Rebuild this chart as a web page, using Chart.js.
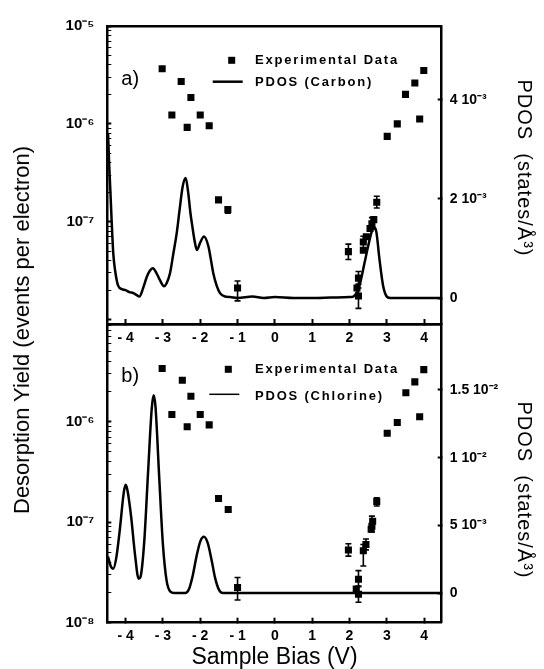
<!DOCTYPE html>
<html>
<head>
<meta charset="utf-8">
<script src="https://cdn.jsdelivr.net/npm/chart.js@4/dist/chart.umd.min.js"></script>
<style>
  body { margin: 0; background: #fff; }
  #wrap { position: relative; width: 544px; height: 669px; overflow: hidden; }
  canvas { position: absolute; left: 0; top: 0; }
  .vt { position: absolute; white-space: nowrap; font-family: "Liberation Sans", Arial, sans-serif; color: #000; }
</style>
</head>
<body>
<div id="wrap">
  <canvas id="panelB" width="544" height="669"></canvas>
  <canvas id="panelA" width="544" height="669"></canvas>
  <div class="vt" style="left:22px;top:330px;font-size:22px;transform:translate(-50%,-50%) rotate(-90deg);">Desorption Yield (events per electron)</div>
  <div class="vt" style="left:524px;top:168px;font-size:20px;letter-spacing:1px;transform:translate(-50%,-50%) rotate(90deg);">PDOS&nbsp; (states/Å³)</div>
  <div class="vt" style="left:524px;top:490px;font-size:20px;letter-spacing:1px;transform:translate(-50%,-50%) rotate(90deg);">PDOS&nbsp; (states/Å³)</div>
</div>
<script>
// axis ticks
var xTicks = [-4, -3, -2, -1, 0, 1, 2, 3, 4];
var xTickLabels = ['- 4', '- 3', '- 2', '- 1', '0', '1', '2', '3', '4'];
var yieldTicksA = [1e-5, 1e-6, 1e-7];
var yieldLabelsA = ['10⁻⁵', '10⁻⁶', '10⁻⁷'];
var yieldTicksB = [1e-6, 1e-7, 1e-8];
var yieldLabelsB = ['10⁻⁶', '10⁻⁷', '10⁻⁸'];
var pdosTicksA = [0, 2, 4];            // units of 10^-3 states/A^3
var pdosLabelsA = ['0', '2 10⁻³', '4 10⁻³'];
var pdosTicksB = [0, 5, 10, 15];
var pdosLabelsB = ['0', '5 10⁻³', '1 10⁻²', '1.5 10⁻²'];

// a) experimental desorption yield (events per electron)
var expXA = [-3.02, -2.51, -2.25, -2.76, -2.35, -2.00, -1.76, -1.51, -1.26, -1.00,
             1.97, 2.20, 2.24, 2.24, 2.37, 2.37, 2.45, 2.55, 2.60, 2.65, 2.73,
             3.01, 3.28, 3.50, 3.75, 3.88, 3.99];
var expYA = [3.65e-6, 2.71e-6, 1.86e-6, 1.23e-6, 9.2e-7, 1.23e-6, 9.55e-7, 1.67e-7, 1.33e-7, 2.1e-8,
             4.94e-8, 2.1e-8, 2.65e-8, 1.74e-8, 5.1e-8, 6.2e-8, 7.0e-8, 8.5e-8, 9.5e-8, 1.05e-7, 1.58e-7,
             7.45e-7, 1.0e-6, 2.0e-6, 2.61e-6, 1.12e-6, 3.51e-6];
var expLoA = [null, null, null, null, null, null, null, null, 1.22e-7, 1.55e-8,
              4.1e-8, null, 2.3e-8, 1.3e-8, null, 5.4e-8, null, null, 8.4e-8, null, 1.38e-7,
              null, null, null, null, null, null];
var expHiA = [null, null, null, null, null, null, null, null, 1.42e-7, 2.48e-8,
              5.9e-8, null, 3.1e-8, 2.1e-8, null, 7.1e-8, null, null, 1.1e-7, null, 1.82e-7,
              null, null, null, null, null, null];

// a) PDOS carbon (10^-3 states/A^3)
var pdosXA = [-4.47, -4.44, -4.41, -4.37, -4.33, -4.28, -4.2, -4.1, -4.0, -3.9, -3.79, -3.7, -3.63,
              -3.53, -3.43, -3.35, -3.27, -3.17, -3.08, -2.97, -2.9, -2.81, -2.72, -2.63, -2.55,
              -2.47, -2.39, -2.32, -2.26, -2.21, -2.15, -2.09, -2.0, -1.9, -1.78, -1.72, -1.65,
              -1.56, -1.47, -1.34, -1.2, -1.0, -0.6, -0.3, 0.0, 0.5, 1.0, 1.5, 2.0, 2.1, 2.2,
              2.3, 2.4, 2.5, 2.6, 2.66, 2.72, 2.8, 2.9, 3.0, 3.1, 3.5, 4.5];
var pdosYA = [3.33, 2.7, 2.2, 1.5, 0.9, 0.55, 0.25, 0.18, 0.16, 0.12, 0.1, 0.06, 0.03,
              0.2, 0.43, 0.55, 0.6, 0.5, 0.36, 0.24, 0.3, 0.5, 0.9, 1.31, 1.8,
              2.25, 2.42, 2.11, 1.7, 1.44, 1.15, 0.97, 1.12, 1.24, 1.04, 0.8, 0.5,
              0.25, 0.1, 0.03, 0.02, 0.0, 0.03, 0.0, 0.02, 0.0, 0.0, 0.01, 0.02, 0.03, 0.12,
              0.35, 0.7, 1.05, 1.35, 1.43, 1.33, 0.8, 0.25, 0.03, 0.0, 0.0, 0.0];

// b) experimental desorption yield
var expXB = [-3.02, -2.48, -2.25, -2.76, -2.35, -2.00, -1.76, -1.51, -1.25, -1.00,
             1.97, 2.18, 2.24, 2.24, 2.37, 2.44, 2.58, 2.60, 2.62, 2.73,
             3.01, 3.28, 3.51, 3.75, 3.88, 3.99];
var expYB = [3.38e-6, 2.59e-6, 1.79e-6, 1.18e-6, 8.9e-7, 1.18e-6, 9.3e-7, 1.72e-7, 1.34e-7, 2.24e-8,
             5.3e-8, 2.16e-8, 2.71e-8, 1.92e-8, 5.2e-8, 6.0e-8, 8.5e-8, 9.1e-8, 1.02e-7, 1.61e-7,
             7.67e-7, 9.8e-7, 1.94e-6, 2.49e-6, 1.12e-6, 3.3e-6];
var expLoB = [null, null, null, null, null, null, null, null, null, 1.68e-8,
              4.6e-8, null, 2.3e-8, 1.6e-8, 3.66e-8, 5.3e-8, null, 8.0e-8, null, 1.45e-7,
              null, null, null, null, null, null];
var expHiB = [null, null, null, null, null, null, null, null, null, 2.82e-8,
              6.1e-8, null, 3.3e-8, 2.3e-8, 6.0e-8, 6.8e-8, null, 1.15e-7, null, 1.75e-7,
              null, null, null, null, null, null];

// b) PDOS chlorine (10^-3 states/A^3)
var pdosXB = [-4.47, -4.4, -4.33, -4.25, -4.15, -4.05, -4.0, -3.95, -3.85, -3.75, -3.65, -3.6,
              -3.5, -3.4, -3.3, -3.25, -3.2, -3.1, -3.0, -2.9, -2.8, -2.7, -2.4, -2.3, -2.2,
              -2.1, -2.0, -1.9, -1.8, -1.7, -1.6, -1.5, -1.4, 4.5];
var pdosYB = [2.7, 2.0, 1.8, 2.6, 4.8, 7.4, 8.0, 7.6, 5.6, 2.9, 1.05, 1.2,
              3.8, 8.8, 13.6, 14.6, 13.8, 8.6, 3.6, 0.9, 0.1, 0.0, 0.0, 0.3, 1.3,
              2.7, 3.8, 4.15, 3.7, 2.5, 1.1, 0.25, 0.0, 0.0];

var FONT = "'Liberation Sans', Arial, sans-serif";

function zip(xs, ys) {
  return xs.map(function(x, i) { return {x: x, y: ys[i]}; });
}

// error bars drawn through the y scale
var errorBars = {
  id: 'errorBars',
  afterDatasetsDraw: function(chart) {
    var ctx = chart.ctx;
    chart.data.datasets.forEach(function(ds, i) {
      if (!ds.errLo) return;
      var meta = chart.getDatasetMeta(i);
      var ys = chart.scales[meta.yAxisID];
      ctx.save();
      ctx.strokeStyle = '#000';
      ctx.lineWidth = 1.6;
      meta.data.forEach(function(pt, j) {
        if (ds.errLo[j] == null) return;
        var y1 = ys.getPixelForValue(ds.errLo[j]);
        var y2 = ys.getPixelForValue(ds.errHi[j]);
        ctx.beginPath();
        ctx.moveTo(pt.x, y1); ctx.lineTo(pt.x, y2);
        ctx.moveTo(pt.x - 3, y1); ctx.lineTo(pt.x + 3, y1);
        ctx.moveTo(pt.x - 3, y2); ctx.lineTo(pt.x + 3, y2);
        ctx.stroke();
      });
      ctx.restore();
    });
  }
};

// in-panel legend and panel letter
var panelKey = {
  id: 'panelKey',
  afterDraw: function(chart, args, o) {
    var ctx = chart.ctx, a = chart.chartArea;
    ctx.save();
    ctx.fillStyle = '#000';
    ctx.strokeStyle = '#000';
    ctx.textBaseline = 'middle';
    ctx.font = '20px ' + FONT;
    ctx.fillText(o.letter, a.left + 14, a.top + o.letterY);
    ctx.fillRect(a.left + o.markX - 3.5, a.top + o.row1 - 3.5, 7, 7);
    ctx.lineWidth = o.lineW;
    ctx.beginPath();
    ctx.moveTo(a.left + o.markX - 19, a.top + o.lineY);
    ctx.lineTo(a.left + o.markX + 11, a.top + o.lineY);
    ctx.stroke();
    ctx.font = 'bold 13px ' + FONT;
    if ('letterSpacing' in ctx) ctx.letterSpacing = '1.8px';
    ctx.fillText(o.items[0], a.left + 147.7, a.top + o.row1);
    ctx.fillText(o.items[1], a.left + 147.7, a.top + o.row2);
    ctx.restore();
  }
};

function logTicks(min, max, majors) {
  var out = [];
  for (var e = -9; e <= -5; e++) {
    for (var m = 1; m <= 9; m++) {
      var v = m * Math.pow(10, e);
      if (v >= min * 0.999 && v <= max * 1.001) {
        out.push({value: v, major: majors.indexOf(v) >= 0 || m === 1});
      }
    }
  }
  return out;
}

function makePanel(id, cfg) {
  var ctx = document.getElementById(id).getContext('2d');
  var xScale = {
    type: 'linear', position: 'bottom', min: -4.49, max: 4.47,
    afterFit: function(s) { s.height = 669 - cfg.bottom; },
    afterBuildTicks: function(s) { s.ticks = xTicks.map(function(v) { return {value: v}; }); },
    border: {display: true, width: 2.5, color: '#000'},
    grid: {drawOnChartArea: false, drawTicks: true, tickLength: -5, tickWidth: 2, tickColor: '#000'},
    ticks: {
      autoSkip: false, maxRotation: 0, color: '#000', padding: cfg.xPad,
      font: {family: FONT, size: 14, weight: 'bold'},
      callback: function(v, i) { return xTickLabels[i]; }
    },
    title: {display: false}
  };
  if (cfg.xTitle) {
    xScale.title = {display: true, text: cfg.xTitle, color: '#000',
      font: {family: FONT, size: 23, lineHeight: 1}, padding: {top: 0, bottom: 0}};
  }
  return new Chart(ctx, {
    type: 'scatter',
    data: {
      datasets: [
        {
          label: 'Experimental Data',
          data: zip(cfg.expX, cfg.expY),
          errLo: cfg.expLo, errHi: cfg.expHi,
          yAxisID: 'y', showLine: false,
          pointStyle: 'rect', pointRadius: 5, pointHoverRadius: 5,
          backgroundColor: '#000', borderColor: '#000', borderWidth: 0
        },
        {
          label: cfg.pdosLabel,
          data: zip(cfg.pdosX, cfg.pdosY),
          yAxisID: 'y2', showLine: true, pointRadius: 0,
          borderColor: '#000', borderWidth: 2.5,
          cubicInterpolationMode: 'monotone'
        }
      ]
    },
    options: {
      responsive: false, animation: false,
      layout: {padding: {top: cfg.top, left: 0, right: 0, bottom: 0}},
      plugins: {
        legend: {display: false}, tooltip: {enabled: false},
        panelKey: cfg.key
      },
      scales: {
        x: xScale,
        x2: {
          type: 'linear', position: 'top', min: -4.49, max: 4.47,
          afterFit: function(s) { s.height = 0; },
          border: {display: true, width: 2.5, color: '#000'},
          grid: {drawOnChartArea: false, drawTicks: false},
          ticks: {display: false}
        },
        y: {
          type: 'logarithmic', position: 'left', min: cfg.yMin, max: cfg.yMax,
          afterFit: function(s) { s.width = 107.3; },
          afterBuildTicks: function(s) { s.ticks = logTicks(cfg.yMin, cfg.yMax, cfg.yTicks); },
          border: {display: true, width: 2.5, color: '#000'},
          grid: {
            drawOnChartArea: false, tickLength: -4, tickColor: '#000',
            tickWidth: function(c) { return c.tick && c.tick.major ? 2 : 1; }
          },
          ticks: {
            autoSkip: false, color: '#000', padding: 17,
            font: {family: FONT, size: 15, weight: 'bold'},
            callback: function(v) {
              for (var i = 0; i < cfg.yTicks.length; i++) {
                if (Math.abs(v / cfg.yTicks[i] - 1) < 1e-6) return cfg.yLabels[i];
              }
              return '';
            }
          }
        },
        y2: {
          type: 'linear', position: 'right', min: cfg.pMin, max: cfg.pMax,
          afterFit: function(s) { s.width = 544 - 441.7; },
          afterBuildTicks: function(s) { s.ticks = cfg.pTicks.map(function(v) { return {value: v}; }); },
          border: {display: true, width: 2.5, color: '#000'},
          grid: {drawOnChartArea: false, tickLength: -4, tickWidth: 2, tickColor: '#000'},
          ticks: {
            autoSkip: false, color: '#000', padding: 12,
            font: {family: FONT, size: 14, weight: 'bold'},
            callback: function(v, i) { return cfg.pLabels[i]; }
          }
        }
      }
    },
    plugins: [errorBars, panelKey]
  });
}

// bottom panel b) first so panel a) canvas sits over it
makePanel('panelB', {
  top: 324, bottom: 622.7, xPad: 10, xTitle: 'Sample Bias (V)',
  expX: expXB, expY: expYB, expLo: expLoB, expHi: expHiB,
  pdosX: pdosXB, pdosY: pdosYB, pdosLabel: 'PDOS (Chlorine)',
  yMin: 1e-8, yMax: 9.38e-6, yTicks: yieldTicksB, yLabels: yieldLabelsB,
  pMin: -2.19, pMax: 19.87, pTicks: pdosTicksB, pLabels: pdosLabelsB,
  key: {letter: 'b)', letterY: 52.7, markX: 121, row1: 45.3, row2: 72, lineY: 70.3, lineW: 1.5,
        items: ['Experimental Data', 'PDOS (Chlorine)']}
});

makePanel('panelA', {
  top: 25, bottom: 324, xPad: 10.5, xTitle: null,
  expX: expXA, expY: expYA, expLo: expLoA, expHi: expHiA,
  pdosX: pdosXA, pdosY: pdosYA, pdosLabel: 'PDOS (Carbon)',
  yMin: 9.35e-9, yMax: 1e-5, yTicks: yieldTicksA, yLabels: yieldLabelsA,
  pMin: -0.523, pMax: 5.487, pTicks: pdosTicksA, pLabels: pdosLabelsA,
  key: {letter: 'a)', letterY: 53, markX: 124.4, row1: 34.3, row2: 56, lineY: 55.7, lineW: 2.5,
        items: ['Experimental Data', 'PDOS (Carbon)']}
});
</script>
</body>
</html>
